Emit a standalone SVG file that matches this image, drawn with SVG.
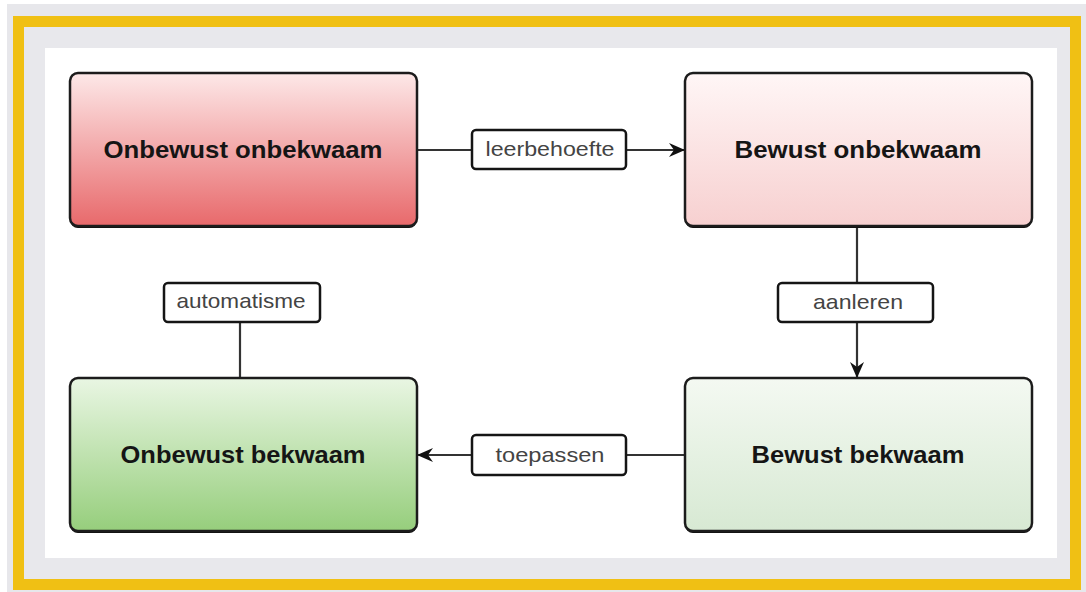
<svg xmlns="http://www.w3.org/2000/svg" width="1086" height="592" viewBox="0 0 1086 592">
<style>
.node{stroke:#1c1c1c;stroke-width:2.5}
.shadow{fill:#111}
.ntext{font-family:"Liberation Sans",Arial,sans-serif;font-weight:bold;font-size:24px;fill:#151515;text-anchor:middle}
.lbox{fill:#fff;stroke:#151515;stroke-width:2.5}
.ltext{font-family:"Liberation Sans",Arial,sans-serif;font-size:21px;fill:#444;text-anchor:middle}
.conn{stroke:#333;stroke-width:2.2;fill:none}
</style>
<defs>
<linearGradient id="g1" x1="0" y1="0" x2="0" y2="1"><stop offset="0" stop-color="#fde8e8"/><stop offset="1" stop-color="#e8696b"/></linearGradient>
<linearGradient id="g2" x1="0" y1="0" x2="0" y2="1"><stop offset="0" stop-color="#fff6f6"/><stop offset="1" stop-color="#f7d0d0"/></linearGradient>
<linearGradient id="g3" x1="0" y1="0" x2="0" y2="1"><stop offset="0" stop-color="#f4f9f2"/><stop offset="1" stop-color="#d7e9d3"/></linearGradient>
<linearGradient id="g4" x1="0" y1="0" x2="0" y2="1"><stop offset="0" stop-color="#e9f6e3"/><stop offset="1" stop-color="#96ce7c"/></linearGradient>
<marker id="arr" viewBox="0 0 16 14" refX="16" refY="7" markerWidth="16" markerHeight="14" markerUnits="userSpaceOnUse" orient="auto"><path d="M0,0 L16,7 L0,14 L5,7 Z" fill="#111"/></marker>
</defs>
<rect x="0" y="0" width="1086" height="592" fill="#ffffff"/>
<rect x="7" y="4" width="1079" height="588" fill="#e7e7eb"/>
<rect x="18.5" y="21.5" width="1057" height="563" fill="#e8e8ec" stroke="#f0c014" stroke-width="11"/>
<rect x="45" y="48" width="1012" height="510" fill="#ffffff"/>

<g id="connectors">
<path class="conn" d="M417,150 H685" marker-end="url(#arr)"/>
<path class="conn" d="M857,226 V378" marker-end="url(#arr)"/>
<path class="conn" d="M685,455 H417" marker-end="url(#arr)"/>
<path class="conn" d="M240,378 V323"/>
<g id="label-leerbehoefte"><rect class="lbox" x="472" y="130" width="154" height="39" rx="4"/><text class="ltext" x="550" y="156" textLength="129" lengthAdjust="spacingAndGlyphs">leerbehoefte</text></g>
<g id="label-aanleren"><rect class="lbox" x="778" y="283" width="155" height="39" rx="4"/><text class="ltext" x="858" y="309" textLength="90" lengthAdjust="spacingAndGlyphs">aanleren</text></g>
<g id="label-toepassen"><rect class="lbox" x="472" y="435" width="154" height="40" rx="4"/><text class="ltext" x="550" y="462" textLength="109" lengthAdjust="spacingAndGlyphs">toepassen</text></g>
<g id="label-automatisme"><rect class="lbox" x="164" y="283" width="156" height="39" rx="4"/><text class="ltext" x="241" y="308" textLength="129" lengthAdjust="spacingAndGlyphs">automatisme</text></g>
</g>

<g id="node-onbewust-onbekwaam">
<rect class="shadow" x="70" y="75" width="347" height="153" rx="8"/>
<rect class="node" x="70" y="73" width="347" height="153" rx="8" fill="url(#g1)"/>
<text class="ntext" x="243" y="158" textLength="279" lengthAdjust="spacingAndGlyphs">Onbewust onbekwaam</text>
</g>
<g id="node-bewust-onbekwaam">
<rect class="shadow" x="685" y="75" width="347" height="153" rx="8"/>
<rect class="node" x="685" y="73" width="347" height="153" rx="8" fill="url(#g2)"/>
<text class="ntext" x="858" y="158" textLength="247" lengthAdjust="spacingAndGlyphs">Bewust onbekwaam</text>
</g>
<g id="node-bewust-bekwaam">
<rect class="shadow" x="685" y="380" width="347" height="153" rx="8"/>
<rect class="node" x="685" y="378" width="347" height="153" rx="8" fill="url(#g3)"/>
<text class="ntext" x="858" y="463" textLength="213" lengthAdjust="spacingAndGlyphs">Bewust bekwaam</text>
</g>
<g id="node-onbewust-bekwaam">
<rect class="shadow" x="70" y="380" width="347" height="153" rx="8"/>
<rect class="node" x="70" y="378" width="347" height="153" rx="8" fill="url(#g4)"/>
<text class="ntext" x="243" y="463" textLength="245" lengthAdjust="spacingAndGlyphs">Onbewust bekwaam</text>
</g>
</svg>
